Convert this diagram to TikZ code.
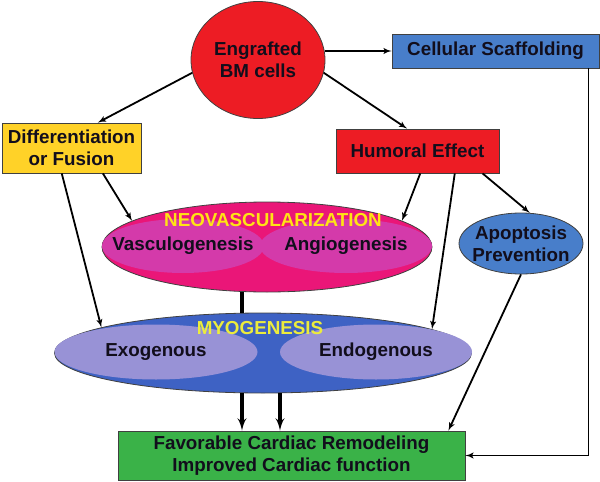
\documentclass[tikz,border=0pt]{standalone}
\usepackage{fontspec}
\setmainfont{Liberation Sans}
\usetikzlibrary{arrows,shapes.geometric}
\definecolor{cellred}{RGB}{237,28,36}
\definecolor{scafblue}{RGB}{72,126,202}
\definecolor{diffyellow}{RGB}{255,210,40}
\definecolor{heartgreen}{RGB}{58,178,72}
\definecolor{neopink}{RGB}{234,22,120}
\definecolor{neolight}{RGB}{212,58,170}
\definecolor{myoblue}{RGB}{62,98,196}
\definecolor{myolight}{RGB}{152,146,214}
\definecolor{titleyellow}{RGB}{255,228,20}
\definecolor{myoyellow}{RGB}{236,236,60}
\definecolor{inkdark}{RGB}{18,14,28}
\begin{document}
\begin{tikzpicture}[x=1pt,y=-1pt]
\tikzset{box/.style = {shape=rectangle,draw=black!75,line width=0.8pt,inner sep=0pt,align=center,text=inkdark,font=\bfseries\fontsize{18.8}{22}\selectfont}}
\tikzset{blob/.style = {box,shape=ellipse}}
\tikzset{part/.style = {shape=ellipse,inner sep=0pt}}
\tikzset{txt/.style = {inner sep=0pt,align=center,text=inkdark,font=\bfseries\fontsize{18.8}{22}\selectfont}}
\tikzset{edge/.style = {->,> = latex',line width=1.8pt}}
\tikzset{bigedge/.style = {->,> = latex',line width=3.2pt}}
\useasboundingbox (0,0) rectangle (600,482);

\node[blob,fill=cellred,minimum width=134,minimum height=117] (bm) at (258,60) {Engrafted\\BM cells};
\node[box,fill=scafblue,minimum width=207,minimum height=34] (scaf) at (495.5,51) {Cellular Scaffolding};
\node[box,fill=diffyellow,minimum width=139,minimum height=50] (diff) at (71.5,148) {Differentiation\\or Fusion};
\node[box,fill=cellred,minimum width=163,minimum height=44] (hum) at (417.5,151) {Humoral Effect};
\node[blob,fill=scafblue,minimum width=124,minimum height=61] (apop) at (521,243.5) {};
\node[txt] (apoptxt) at (apop) {Apoptosis\\Prevention};

% neovascularization
\node[blob,fill=neopink,minimum width=330,minimum height=90] (neo) at (267,247) {};
\node[part,fill=neolight,minimum width=162,minimum height=54] (vasc) at (183,246) {};
\node[part,fill=neolight,minimum width=172,minimum height=54] (angio) at (346,246) {};
\node[txt] (vasctxt) at (vasc) {Vasculogenesis};
\node[txt] (angiotxt) at (angio) {Angiogenesis};
\node[txt,text=titleyellow] (neotitle) at (273,220) {NEOVASCULARIZATION};

% myogenesis
\node[blob,fill=myoblue,minimum width=417,minimum height=80] (myo) at (263,353) {};
\node[part,fill=myolight,minimum width=203,minimum height=55] (exo) at (156,352) {};
\node[part,fill=myolight,minimum width=192,minimum height=55] (endo) at (376,352) {};
\node[txt] (exotxt) at (exo) {Exogenous};
\node[txt] (endotxt) at (endo) {Endogenous};
\node[txt,text=myoyellow] (myotitle) at (260,328) {MYOGENESIS};

\node[box,fill=heartgreen,minimum width=347,minimum height=49] (heart) at (291.5,455.5) {Favorable Cardiac Remodeling\\Improved Cardiac function};

\draw[edge] (bm.191) to (diff.44);
\draw[edge] (scaf.west -| bm.east) to (scaf.west);
\draw[edge] (bm.-11) to (hum.115);
\draw[edge] (diff.249) to (myo.171);
\draw[edge] (diff.-39) to (neo.169);
\draw[edge] (hum.-83) to (neo.11);
\draw[edge] (hum.-31) to (myo.8);
\draw[edge] (hum.-19) to (apop.74);
\draw[edge] (apop.south) to ([xshift=-17pt]heart.north east);
\draw[edge] ([xshift=-11pt]scaf.south east) |- (heart.east);
\draw[line width=3.2pt] ([xshift=-25pt]neo.south) to ([xshift=-21pt]myo.north);
\draw[bigedge] ([xshift=-21pt]myo.south) to ([xshift=-21pt]myo.south |- heart.north);
\draw[bigedge] ([xshift=17pt]myo.south) to ([xshift=17pt]myo.south |- heart.north);
\end{tikzpicture}
\end{document}
